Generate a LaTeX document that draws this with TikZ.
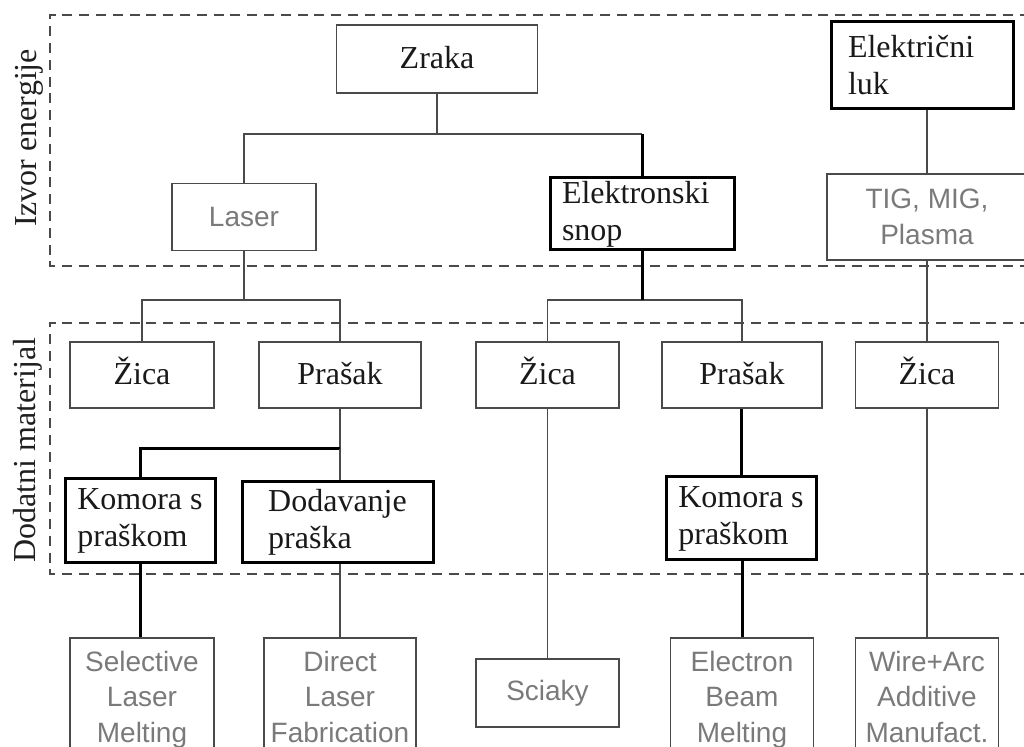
\documentclass[tikz,border=0pt]{standalone}
\usepackage{fontspec}
\setmainfont{Liberation Serif}
\setsansfont{Liberation Sans}
\usepackage{tikz}
\usepackage{xcolor}
\definecolor{linegray}{HTML}{4A4A4A}
\definecolor{textgray}{HTML}{7A7A7A}

\tikzset{
	thinbox/.style={draw=linegray, line width=0.9pt, inner sep=0pt, align=left,
		text=black!90, font=\fontsize{16}{18.5}\selectfont},
	oneline/.style={thinbox, text height=11.5pt, text depth=1.5pt},
	thickbox/.style={thinbox, draw=black, line width=1.5pt},
	grbox/.style={thinbox, text=textgray, align=center,
		font=\sffamily\fontsize{14}{17.8}\selectfont},
	endbox/.style={grbox, anchor=north, inner ysep=6.5pt},
	thinline/.style={draw=linegray, line width=0.9pt},
	thickline/.style={draw=black, line width=1.5pt},
	zone/.style={draw=linegray, line width=1pt, dash pattern=on 5pt off 3.4pt},
	zonelabel/.style={rotate=90, text=black!88, font=\fontsize{16}{18}\selectfont}
}

\begin{document}
\begin{tikzpicture}[x=0.5pt, y=-0.5pt]
	%\draw[help lines] (0,0) grid[step=50] (1024,747);
	\useasboundingbox (0,0) rectangle (1024,747);
	\clip (0,0) rectangle (1024,747);

	\draw[zone] (1030,15) -- (50,15) -- (50,266) -- (1030,266);
	\draw[zone] (1030,323) -- (50,323) -- (50,574) -- (1030,574);
	\node[zonelabel] (izvor) at (29,138) {Izvor energije};
	\node[zonelabel] (dodatni) at (28,450) {Dodatni materijal};

	% izvor energije
	\node[oneline, minimum width=100.5pt, minimum height=34pt] (zraka) at (437,59) {Zraka};
	\node[thickbox, text width=74pt, inner xsep=8.5pt, minimum height=43.5pt] (luk) at (922,65.5) {Električni\\luk};
	\node[grbox, minimum width=72pt, minimum height=33.5pt] (laser) at (244,217) {Laser};
	\node[thickbox, text width=80pt, inner xsep=6pt, minimum height=36pt] (snop) at (642,214) {Elektronski\\snop};
	\node[grbox, minimum width=100pt, minimum height=43pt] (tig) at (927,217) {TIG, MIG,\\Plasma};

	% dodatni materijal
	\node[oneline, minimum width=72pt, minimum height=33pt] (zica1) at (142,375) {Žica};
	\node[oneline, minimum width=81pt, minimum height=33pt] (prasak1) at (340,375) {Prašak};
	\node[oneline, minimum width=71.5pt, minimum height=33pt] (zica2) at (547.5,375) {Žica};
	\node[oneline, minimum width=80pt, minimum height=33pt] (prasak2) at (742,375) {Prašak};
	\node[oneline, minimum width=71.5pt, minimum height=33pt] (zica3) at (927,375) {Žica};

	\node[thickbox, minimum width=75pt, minimum height=42pt] (komora1) at (140,521) {Komora s\\praškom};
	\node[thickbox, minimum width=95.5pt, minimum height=40.5pt] (dodavanje) at (337.5,522.5) {Dodavanje\\praška};
	\node[thickbox, minimum width=75pt, minimum height=41.5pt] (komora2) at (741,518.5) {Komora s\\praškom};

	% postupci
	\node[endbox, text width=72pt] (slm) at (142,637) {Selective\\Laser\\Melting};
	\node[endbox, text width=76pt] (dlf) at (340,637) {Direct\\Laser\\Fabrication};
	\node[grbox, minimum width=71.5pt, minimum height=34pt] (sciaky) at (547.5,693) {Sciaky};
	\node[endbox, text width=71.5pt] (ebm) at (742,637) {Electron\\Beam\\Melting};
	\node[endbox, text width=71.5pt] (waam) at (927,637) {Wire+Arc\\Additive\\Manufact.};

	% veze
	\coordinate (j1) at (437,134);
	\coordinate (j2) at (244,300);
	\coordinate (j3) at (642,300);
	\coordinate (j4) at (340,449);

	\draw[thinline] (zraka) -- (j1) -| (laser);
	\draw[thinline] (j1) -- (j1 -| snop);
	\draw[thickline] (j1 -| snop) -- (snop);
	\draw[thinline] (luk.south -| tig) -- (tig);

	\draw[thinline] (laser) -- (j2);
	\draw[thinline] (zica1) |- (j2) -| (prasak1);
	\draw[thinline] (zica2) |- (j3) -| (prasak2);
	\draw[thickline] (snop) -- (j3);
	\draw[thinline] (tig) -- (zica3);

	\draw[thinline] (prasak1) -- (j4);
	\draw[thickline] (j4) -| (komora1);
	\draw[thinline] (j4) -- (j4 |- dodavanje.north);
	\draw[thickline] (prasak2.south -| komora2) -- (komora2);

	\draw[thickline] (komora1.south) -- (komora1.south |- slm.north);
	\draw[thinline] (j4 |- dodavanje.south) -- (dlf);
	\draw[thinline] (zica2) -- (sciaky);
	\draw[thickline] (komora2.south -| ebm) -- (ebm);
	\draw[thinline] (zica3) -- (waam);
\end{tikzpicture}
\end{document}
